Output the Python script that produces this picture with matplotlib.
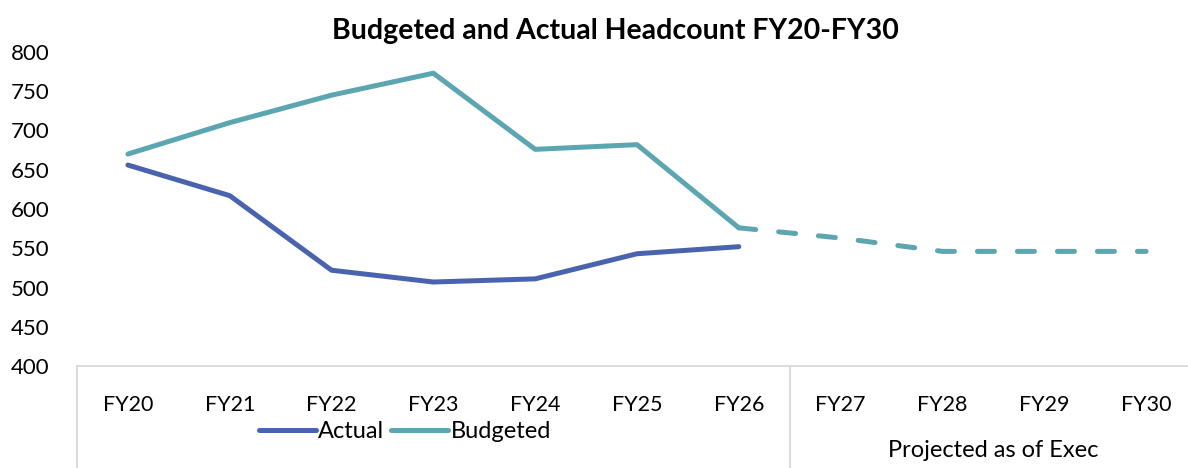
import matplotlib.pyplot as plt
import matplotlib.transforms as mtransforms

# data
years = ["FY20", "FY21", "FY22", "FY23", "FY24", "FY25", "FY26",
         "FY27", "FY28", "FY29", "FY30"]
actual = [656, 617, 522, 507, 511, 543, 552]
budgeted = [670, 710, 745, 773, 676, 682, 576]
projected = [576, 563, 546, 546, 546]  # budgeted FY26-FY30, dashed

c_actual = "#4A63AE"
c_budget = "#5BA6B1"

plt.rcParams["font.family"] = ["Lato", "DejaVu Sans"]

fig = plt.figure(figsize=(11.88, 4.68), dpi=100)
ax = fig.add_axes([77 / 1188, 1 - 366 / 468, 1120 / 1188, 314 / 468])

x_all = list(range(len(years)))
ax.plot(x_all[:len(actual)], actual, color=c_actual, lw=3.6, label="Actual",
        solid_capstyle="round", solid_joinstyle="round")
ax.plot(x_all[:len(budgeted)], budgeted, color=c_budget, lw=3.6, label="Budgeted",
        solid_capstyle="round", solid_joinstyle="round")
ax.plot(x_all[len(budgeted) - 1:], projected, color=c_budget, lw=3.6,
        linestyle=(0, (3.4, 4.6)), dash_capstyle="round")

ax.set_xlim(-0.5, len(years) - 0.5)
ax.set_ylim(400, 800)
ax.set_yticks(range(400, 801, 50))
ax.set_xticks(x_all)
ax.set_xticklabels(years)
ax.tick_params(axis="y", length=0, pad=20, labelsize=16)
ax.tick_params(axis="x", length=0, pad=21, labelsize=15.5)

for s in ["top", "right", "left"]:
    ax.spines[s].set_visible(False)
ax.spines["bottom"].set_color("#D9D9D9")
ax.spines["bottom"].set_linewidth(1.3)

# category box lines under the axis
trans = mtransforms.blended_transform_factory(ax.transData, ax.transAxes)
for xv in [-0.5, 6.5]:
    ax.plot([xv, xv], [0, -0.33], transform=trans, color="#D9D9D9", lw=1.3,
            clip_on=False)
ax.text(8.5, -0.27, "Projected as of Exec", transform=trans, ha="center",
        va="center", fontsize=17)

ax.set_title("Budgeted and Actual Headcount FY20-FY30", fontsize=20.5,
             fontweight="bold", x=(615 - 77) / 1120, y=1.015)

fig.legend(loc="center", bbox_to_anchor=(405 / 1188, 1 - 432 / 468), ncol=2,
           frameon=False, fontsize=17, handlelength=2.4, handletextpad=0.1,
           columnspacing=0.3)

plt.savefig("out.png", dpi=100)
